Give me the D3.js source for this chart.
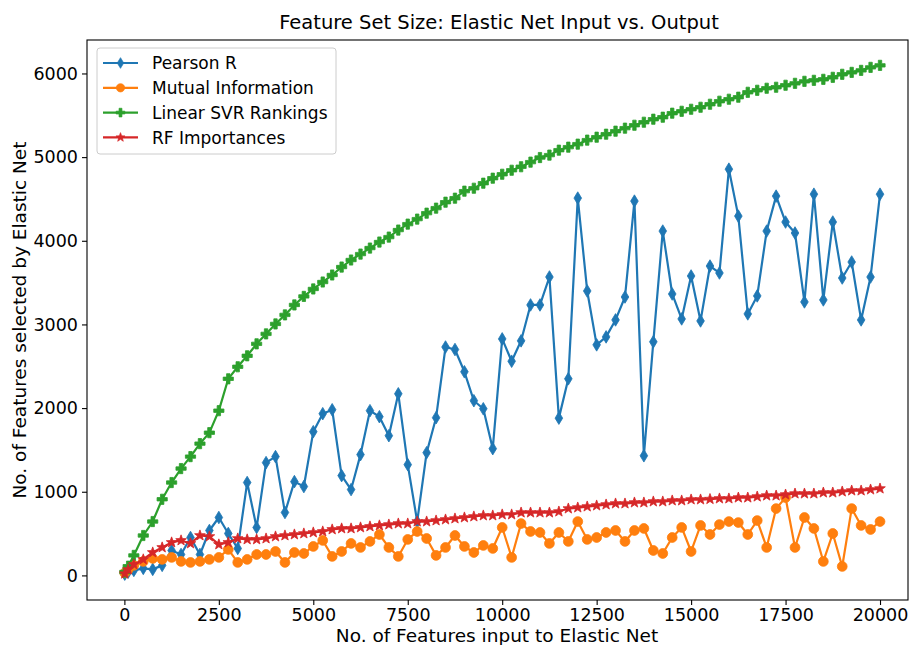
<!DOCTYPE html>
<html>
<head>
<meta charset="utf-8">
<script src="https://cdn.jsdelivr.net/npm/d3@7"></script>
<style>
  body { margin: 0; background: #fff; }
  text { font-family: "DejaVu Sans", sans-serif; fill: #000; }
</style>
</head>
<body>
<svg id="chart" width="909" height="645"></svg>
<script>
// number of features given to Elastic Net
let inputSizes = [10, 100, 250, 500, 750, 1000, 1250, 1500, 1750, 2000, 2250, 2500, 2750, 3000,
    3250, 3500, 3750, 4000, 4250, 4500, 4750, 5000, 5250, 5500, 5750, 6000, 6250, 6500, 6750,
    7000, 7250, 7500, 7750, 8000, 8250, 8500, 8750, 9000, 9250, 9500, 9750, 10000, 10250, 10500,
    10750, 11000, 11250, 11500, 11750, 12000, 12250, 12500, 12750, 13000, 13250, 13500, 13750,
    14000, 14250, 14500, 14750, 15000, 15250, 15500, 15750, 16000, 16250, 16500, 16750, 17000,
    17250, 17500, 17750, 18000, 18250, 18500, 18750, 19000, 19250, 19500, 19750, 20000];

let pearsonR = [15, 40, 60, 84, 72, 120, 298, 250, 453, 250, 537, 692, 501, 322,
    1110, 573, 1348, 1420, 752, 1121, 1062, 1718, 1933, 1980, 1193, 1026, 1444, 1969, 1897,
    1670, 2171, 1324, 644, 1467, 1885, 2730, 2700, 2434, 2088, 1992, 1515, 2827, 2560, 2804,
    3233, 3233, 3567, 1880, 2350, 4510, 3400, 2756, 2851, 3054, 3328, 4474, 1430,
    2792, 4116, 3364, 3066, 3579, 3042, 3698, 3615, 4856, 4295, 3126, 3341, 4116,
    4534, 4224, 4093, 3269, 4557, 3293, 4224, 3555, 3746, 3054, 3567, 4557];

let mutualInfo = [30, 70, 120, 167, 203, 191, 215, 167, 155, 167, 191, 215, 310, 155,
    191, 250, 250, 286, 155, 274, 262, 346, 418, 227, 286, 382, 334, 406, 489,
    334, 227, 430, 525, 441, 239, 334, 477, 346, 274, 358, 322, 573, 215, 620,
    525, 513, 382, 513, 406, 644, 430, 453, 513, 537, 406, 537, 561,
    298, 262, 453, 573, 286, 597, 489, 608, 644, 632, 489, 656, 334,
    799, 930, 334, 692, 561, 167, 501, 107, 799, 597, 549, 644];

let svrRankings = [40, 110, 239, 477, 644, 910, 1110, 1277, 1420, 1575, 1706, 1969, 2350, 2494,
    2625, 2768, 2887, 3006, 3114, 3233, 3335, 3424, 3507, 3591, 3686, 3770, 3841, 3913, 3985,
    4044, 4128, 4199, 4259, 4330, 4390, 4461, 4509, 4593, 4628, 4688, 4748, 4795, 4843, 4885,
    4940, 4995, 5024, 5083, 5119, 5155, 5203, 5238, 5274, 5310, 5346, 5381, 5417,
    5453, 5477, 5525, 5548, 5572, 5596, 5632, 5668, 5692, 5716, 5775, 5799, 5823,
    5835, 5859, 5882, 5906, 5918, 5930, 5954, 5990, 6013, 6037, 6073, 6097];

let rfImportances = [20, 70, 131, 191, 274, 334, 394, 418, 382, 477, 465, 370, 394, 441,
    430, 430, 441, 465, 477, 489, 501, 513, 525, 549, 561, 561, 573, 585, 597,
    608, 620, 620, 644, 644, 656, 668, 680, 692, 704, 716, 716, 728, 728, 751,
    751, 751, 751, 763, 799, 811, 823, 835, 847, 859, 859, 871, 871,
    883, 883, 895, 895, 907, 907, 912, 919, 919, 930, 930, 942, 954,
    954, 966, 978, 978, 978, 990, 990, 1002, 1014, 1014, 1026, 1038];

let xTicks = [0, 2500, 5000, 7500, 10000, 12500, 15000, 17500, 20000];
let yTicks = [0, 1000, 2000, 3000, 4000, 5000, 6000];

let seriesList = [
    { name: "Pearson R", values: pearsonR, colour: "#1f77b4", marker: "diamond" },
    { name: "Mutual Information", values: mutualInfo, colour: "#ff7f0e", marker: "circle" },
    { name: "Linear SVR Rankings", values: svrRankings, colour: "#2ca02c", marker: "plus" },
    { name: "RF Importances", values: rfImportances, colour: "#d62728", marker: "star" }
];

let plotLeft = 87, plotRight = 908, plotTop = 40, plotBottom = 600;

let svg = d3.select("#chart");

// 0 lands at px 124, 20000 at px 880
let xScale = d3.scaleLinear()
    .domain([-989.5, 20000 + (plotRight - 880) / (756 / 20000)])
    .range([plotLeft, plotRight]);
let yScale = d3.scaleLinear()
    .domain([-294, 6400])
    .range([plotBottom, plotTop]);

// marker shapes, centred on 0,0
function markerPath(kind) {
    if (kind === "diamond") {
        return "M0,-6.3L3.8,0L0,6.3L-3.8,0Z";
    }
    if (kind === "plus") {
        let a = 1.7, b = 5.1;
        return "M" + (-a) + "," + (-b) + "H" + a + "V" + (-a) + "H" + b + "V" + a + "H" + a +
            "V" + b + "H" + (-a) + "V" + a + "H" + (-b) + "V" + (-a) + "H" + (-a) + "Z";
    }
    if (kind === "star") {
        let pts = [];
        for (let k = 0; k < 10; k++) {
            let r = (k % 2 === 0) ? 5.6 : 2.3;
            let ang = -Math.PI / 2 + k * Math.PI / 5;
            pts.push([r * Math.cos(ang), r * Math.sin(ang)]);
        }
        return "M" + pts.map(p => p[0].toFixed(2) + "," + p[1].toFixed(2)).join("L") + "Z";
    }
    return d3.symbol().type(d3.symbolCircle).size(Math.PI * 4.9 * 4.9)();
}

// axes
let xAxis = d3.axisBottom(xScale).tickValues(xTicks).tickSize(5).tickPadding(4)
    .tickFormat(d3.format("d"));
let yAxis = d3.axisLeft(yScale).tickValues(yTicks).tickSize(5).tickPadding(4)
    .tickFormat(d3.format("d"));

let gx = svg.append("g")
    .attr("transform", "translate(0," + plotBottom + ")")
    .call(xAxis);
let gy = svg.append("g")
    .attr("transform", "translate(" + plotLeft + ",0)")
    .call(yAxis);
[gx, gy].forEach(g => {
    g.select(".domain").remove();
    g.selectAll("line").attr("stroke", "#000").attr("stroke-width", 1.1);
    g.selectAll("text").style("font-size", "17.5px").style("font-family", "DejaVu Sans");
});

// frame
svg.append("rect")
    .attr("x", plotLeft)
    .attr("y", plotTop)
    .attr("width", plotRight - plotLeft)
    .attr("height", plotBottom - plotTop)
    .attr("fill", "none")
    .attr("stroke", "#000")
    .attr("stroke-width", 1.1);

// data
svg.append("clipPath").attr("id", "plotClip")
    .append("rect")
    .attr("x", plotLeft).attr("y", plotTop)
    .attr("width", plotRight - plotLeft).attr("height", plotBottom - plotTop);

let dataLayer = svg.append("g").attr("clip-path", "url(#plotClip)");
let line = d3.line()
    .x((d, i) => xScale(inputSizes[i]))
    .y(d => yScale(d));

for (let s = 0; s < seriesList.length; s++) {
    let ser = seriesList[s];
    let g = dataLayer.append("g");
    g.append("path")
        .attr("d", line(ser.values))
        .attr("fill", "none")
        .attr("stroke", ser.colour)
        .attr("stroke-width", 2.2)
        .attr("stroke-linejoin", "round");
    g.selectAll("path.mk")
        .data(ser.values)
        .enter()
        .append("path")
        .attr("class", "mk")
        .attr("d", markerPath(ser.marker))
        .attr("transform", (d, i) => "translate(" + xScale(inputSizes[i]) + "," + yScale(d) + ")")
        .attr("fill", ser.colour)
        .attr("stroke", ser.colour)
        .attr("stroke-width", 0.8);
}

// legend
let legend = svg.append("g");
legend.append("rect")
    .attr("x", 97).attr("y", 48)
    .attr("width", 239).attr("height", 106)
    .attr("rx", 3)
    .attr("fill", "#fff").attr("fill-opacity", 0.8)
    .attr("stroke", "#cccccc").attr("stroke-width", 1);
for (let s = 0; s < seriesList.length; s++) {
    let ser = seriesList[s];
    let ly = 63 + s * 24.8;
    legend.append("line")
        .attr("x1", 103).attr("x2", 138)
        .attr("y1", ly).attr("y2", ly)
        .attr("stroke", ser.colour).attr("stroke-width", 2.2);
    legend.append("path")
        .attr("d", markerPath(ser.marker))
        .attr("transform", "translate(120.5," + ly + ") scale(0.85)")
        .attr("fill", ser.colour).attr("stroke", ser.colour).attr("stroke-width", 0.8);
    legend.append("text")
        .attr("x", 152).attr("y", ly)
        .attr("dy", "0.36em")
        .style("font-size", "17px")
        .text(ser.name);
}

// title and axis labels
svg.append("text")
    .attr("x", 499).attr("y", 29)
    .attr("text-anchor", "middle")
    .style("font-size", "19.5px")
    .text("Feature Set Size: Elastic Net Input vs. Output");

svg.append("text")
    .attr("x", 497).attr("y", 642)
    .attr("text-anchor", "middle")
    .style("font-size", "18.5px")
    .text("No. of Features input to Elastic Net");

svg.append("text")
    .attr("transform", "translate(26," + ((plotTop + plotBottom) / 2) + ") rotate(-90)")
    .attr("text-anchor", "middle")
    .style("font-size", "18.5px")
    .text("No. of Features selected by Elastic Net");
</script>
</body>
</html>
